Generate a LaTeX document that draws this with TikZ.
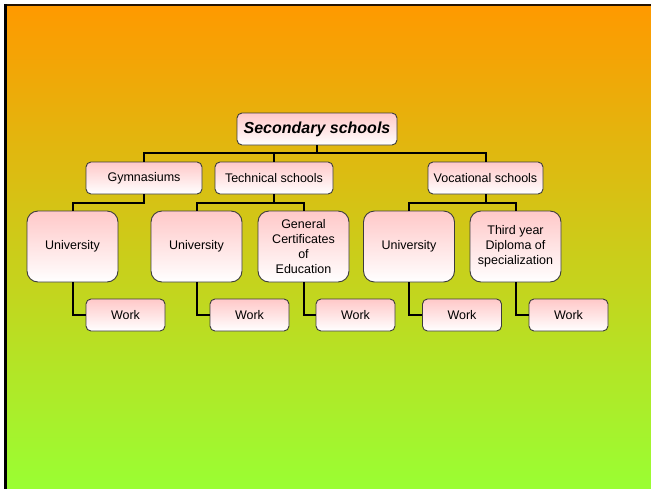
\documentclass[tikz,border=0pt]{standalone}
\usepackage{fontspec}
\setmainfont{Liberation Sans}
\definecolor{topor}{RGB}{255,153,0}
\definecolor{botgr}{RGB}{153,255,51}
\definecolor{boxpink}{RGB}{255,200,200}
\definecolor{boxline}{RGB}{60,60,60}
\tikzset{
  box/.style={draw=boxline, line width=0.9pt, rounded corners=5pt, top color=boxpink, bottom color=white,
    align=center, inner sep=2pt, font=\fontsize{12.5}{15}\selectfont},
  bigbox/.style={box, rounded corners=11pt, minimum width=91pt, minimum height=71pt},
  workbox/.style={box, minimum width=79pt, minimum height=32pt},
  midbox/.style={box, minimum height=32pt},
  conn/.style={draw=black, line width=2pt}
}
\begin{document}
\begin{tikzpicture}[x=1pt,y=-1pt]
\useasboundingbox (0,0) rectangle (651,488);
\fill[white] (-2,-2) rectangle (4,492);
\fill[white] (-2,-2) rectangle (655,4);
\shade[top color=topor, bottom color=botgr] (4,4) rectangle (655,492);
\draw[line width=1.5pt, black!85!orange] (4,4.75) -- (655,4.75);
\draw[line width=3pt, black] (5.5,4) -- (5.5,492);

\node[box, minimum width=160pt, minimum height=32pt, font=\fontsize{16}{19}\selectfont\bfseries\itshape] (sec) at (317,129) {Secondary schools};
\node[midbox, minimum width=116pt] (gym) at (144,178) {Gymnasiums};
\node[midbox, minimum width=118pt] (tech) at (274,178) {Technical schools};
\node[midbox, minimum width=115pt] (voc) at (485.5,178) {Vocational schools};

\node[bigbox] (u1) at (72.5,246.5) {University};
\node[bigbox] (u2) at (196.5,246.5) {University};
\node[bigbox] (gce) at (303.5,246.5) {General\\Certificates\\of\\Education};
\node[bigbox] (u3) at (409,246.5) {University};
\node[bigbox] (ty) at (515.5,246.5) {Third year\\Diploma of\\specialization};

\node[workbox] (w1) at (125.5,315) {Work};
\node[workbox] (w2) at (249.5,315) {Work};
\node[workbox] (w3) at (355.5,315) {Work};
\node[workbox] (w4) at (462,315) {Work};
\node[workbox] (w5) at (568.5,315) {Work};

% level 1
\draw[conn] (sec.south) -- ++(0,8);
\draw[conn] (gym.north) -- ++(0,-9) -| (voc.north);
\draw[conn] (tech.north) -- ++(0,-9);
% level 2
\draw[conn] (gym.south) -- ++(0,9) -| (u1.north);
\draw[conn] (tech.south) -- ++(0,9) -| (u2.north);
\draw[conn] (tech.south) ++(0,9) -| (gce.north);
\draw[conn] (voc.south) -- ++(0,9) -| (u3.north);
\draw[conn] (voc.south) ++(0,9) -| (ty.north);
% level 3
\draw[conn] (u1.south) |- (w1.west);
\draw[conn] (u2.south) |- (w2.west);
\draw[conn] (gce.south) |- (w3.west);
\draw[conn] (u3.south) |- (w4.west);
\draw[conn] (ty.south) |- (w5.west);
\end{tikzpicture}
\end{document}
